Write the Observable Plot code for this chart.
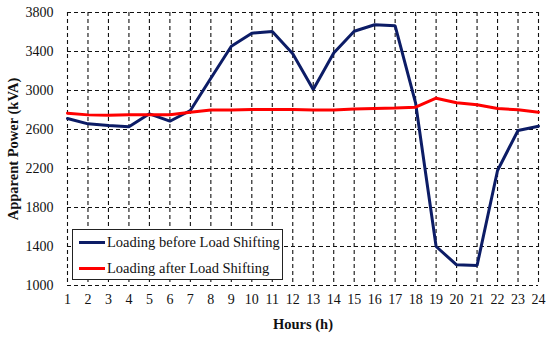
<!DOCTYPE html>
<html><head><meta charset="utf-8">
<style>
body{margin:0;background:#fff;font-family:'Liberation Serif';}
#wrap{position:relative;width:550px;height:341px;}
#legend{position:absolute;left:72px;top:229px;width:211px;height:51px;border:1.3px solid #222;background:#fff;font-family:'Liberation Serif';font-size:14.5px;color:#111;box-sizing:border-box;z-index:2;}
.row{position:absolute;left:6px;display:flex;align-items:center;height:17px;white-space:nowrap;}
.sw{width:26px;height:3px;margin-right:2px;}
#wrap svg text{font-family:'Liberation Serif';}
</style>
</head><body>
<div id="wrap">
<div id="legend">
 <div class="row" style="top:4px"><div class="sw" id="sw0"></div><span id="lab0"></span></div>
 <div class="row" style="top:30px"><div class="sw" id="sw1"></div><span id="lab1"></span></div>
</div>
</div>
<script src="https://cdn.jsdelivr.net/npm/d3@7"></script>
<script src="https://cdn.jsdelivr.net/npm/@observablehq/plot@0.6"></script>
<script>
const hours = d3.range(1, 25);
const before = [2713,2658,2641,2628,2761,2685,2795,3126,3454,3588,3605,3376,3010,3385,3608,3674,3663,2870,1400,1212,1205,2180,2590,2634];
const after  = [2767,2750,2747,2752,2752,2752,2778,2800,2800,2805,2805,2805,2800,2800,2810,2815,2820,2829,2921,2874,2853,2815,2802,2778];
const yTicks = [1000,1400,1800,2200,2600,3000,3400,3800];
const seriesNames = ["Loading before Load Shifting","Loading after Load Shifting"];
const seriesColors = ["#0c1c66","#ff0000"];
const FONT = "Liberation Serif";

const data = [];
hours.forEach((h,i)=>{data.push({h, v:before[i], s:seriesNames[0]}); data.push({h, v:after[i], s:seriesNames[1]});});

const chart = Plot.plot({
  width:550, height:341,
  marginLeft:67, marginRight:12, marginTop:12, marginBottom:56,
  style:{fontFamily:FONT, fontSize:"14px", color:"#111", background:"#fff"},
  x:{domain:[1,24], label:null},
  y:{domain:[1000,3800], label:null},
  color:{domain:seriesNames, range:seriesColors},
  marks:[
    Plot.ruleX(hours, {stroke:"#111", strokeWidth:1.1, strokeDasharray:"4,3", strokeOpacity:1}),
    Plot.ruleY(yTicks, {stroke:"#111", strokeWidth:1.1, strokeDasharray:"4,3", strokeOpacity:1}),
    Plot.line(data, {x:"h", y:"v", z:"s", stroke:"s", strokeWidth:3, strokeLinejoin:"miter"}),
    Plot.axisX({ticks:hours, tickFormat:d=>String(d), tickSize:0, tickPadding:9, fontSize:14, label:null}),
    Plot.axisY({ticks:yTicks, tickFormat:d=>String(d), tickSize:0, tickPadding:14, fontSize:14, label:null}),
    Plot.text(["Hours (h)"], {frameAnchor:"bottom", dy:43, fontWeight:"bold", fontSize:14.5}),
    Plot.text(["Apparent Power (kVA)"], {frameAnchor:"left", textAnchor:"middle", dx:-54, rotate:-90, fontWeight:"bold", fontSize:14.5})
  ]
});
chart.querySelectorAll("text").forEach(t=>t.setAttribute("font-family",FONT));
const wrap = document.getElementById("wrap");
wrap.insertBefore(chart, wrap.firstChild);
seriesColors.forEach((c,i)=>{document.getElementById("sw"+i).style.background=c; document.getElementById("lab"+i).textContent=seriesNames[i];});
</script>
</body></html>
